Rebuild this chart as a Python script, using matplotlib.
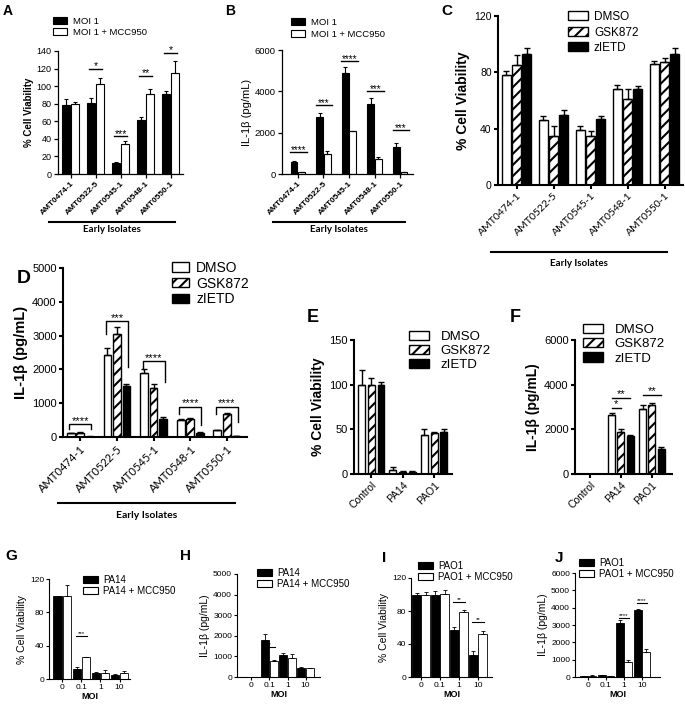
import numpy as np
import matplotlib
matplotlib.use('Agg')
import matplotlib.pyplot as plt
from matplotlib.patches import Patch
from matplotlib.lines import Line2D

plt.rcParams['font.family'] = ['Liberation Sans', 'DejaVu Sans']
plt.rcParams['hatch.linewidth'] = 1.5

W, H = 685, 706

# ---- data ----
isolates = ['AMT0474-1', 'AMT0522-5', 'AMT0545-1', 'AMT0548-1', 'AMT0550-1']
a_moi = [79, 81, 12, 62, 91]
a_moi_err = [6, 5, 2, 3, 3]
a_mcc = [80, 102, 34, 91, 115]
a_mcc_err = [2, 7, 3, 6, 14]
a_sig = ['', '*', '***', '**', '*']
a_sig_y = [0, 120, 43, 112, 138]

b_moi = [600, 2750, 4900, 3400, 1330]
b_moi_err = [40, 200, 300, 280, 180]
b_mcc = [80, 950, 2060, 720, 80]
b_mcc_err = [20, 180, 40, 120, 20]
b_sig = ['****', '***', '****', '***', '***']
b_sig_y = [1080, 3340, 5480, 4030, 2130]

c_dmso = [78, 46, 39, 68, 86]
c_dmso_err = [3, 3, 3, 3, 2]
c_gsk = [85, 35, 35, 61, 87]
c_gsk_err = [7, 7, 3, 7, 3]
c_zietd = [93, 50, 47, 68, 93]
c_zietd_err = [4, 3, 2, 2, 4]

d_dmso = [110, 2430, 1900, 500, 200]
d_dmso_err = [20, 200, 120, 20, 20]
d_gsk = [120, 3050, 1460, 520, 680]
d_gsk_err = [20, 200, 100, 40, 40]
d_zietd = [10, 1520, 520, 120, 30]
d_zietd_err = [5, 40, 60, 20, 10]
d_sig = ['****', '***', '****', '****', '****']
d_sig_top = [375, 3420, 2240, 890, 890]
d_sig_left = [230, 3060, 2020, 690, 690]
d_sig_right = [230, 2070, 1630, 345, 440]

strains = ['Control', 'PA14', 'PAO1']
e_dmso = [100, 4, 44]
e_dmso_err = [16, 4, 6]
e_gsk = [100, 2, 46]
e_gsk_err = [8, 1, 1]
e_zietd = [100, 2, 47]
e_zietd_err = [3, 1, 3]

f_dmso = [0, 2650, 2900]
f_dmso_err = [0, 100, 200]
f_gsk = [0, 1900, 3100]
f_gsk_err = [0, 100, 80]
f_zietd = [0, 1680, 1130]
f_zietd_err = [0, 50, 80]

moi = ['0', '0.1', '1', '10']
g_pa14 = [100, 12, 7, 5]
g_pa14_err = [0, 2, 1, 1]
g_mcc = [100, 26, 7, 7]
g_mcc_err = [13, 1, 4, 3]

h_pa14 = [0, 1800, 1080, 430]
h_pa14_err = [0, 300, 80, 60]
h_mcc = [0, 800, 920, 420]
h_mcc_err = [0, 40, 180, 40]

i_pao1 = [100, 100, 57, 27]
i_pao1_err = [2, 4, 4, 5]
i_mcc = [100, 101, 79, 52]
i_mcc_err = [3, 5, 2, 4]

j_pao1 = [40, 90, 3100, 3870]
j_pao1_err = [10, 20, 200, 60]
j_mcc = [80, 60, 850, 1470]
j_mcc_err = [20, 10, 150, 120]

fig = plt.figure(figsize=(6.85, 7.06), dpi=100)


def axes_px(l, t, r, b):
    return fig.add_axes([l / W, 1 - b / H, (r - l) / W, (b - t) / H])


STY = {'black': dict(facecolor='black'),
       'white': dict(facecolor='white'),
       'hatch': dict(facecolor='white', hatch='///')}


def draw_bars(ax, series, width, offsets, lw, cap):
    for (vals, errs, kind), off in zip(series, offsets):
        x = np.arange(len(vals)) + off
        ax.bar(x, vals, width, edgecolor='black', linewidth=lw, zorder=2, **STY[kind])
        ax.errorbar(x, vals, yerr=[np.zeros(len(errs)), errs], fmt='none', ecolor='black',
                    elinewidth=lw, capsize=cap, capthick=lw, zorder=3)


def style(ax, lw, size, ylim, yticks, xlim, labels, rot=45, lab_font=None, lab_size=None,
          lab_weight='normal'):
    for s in ['top', 'right']:
        ax.spines[s].set_visible(False)
    for s in ['left', 'bottom']:
        ax.spines[s].set_linewidth(lw)
    ax.set_ylim(*ylim)
    ax.set_yticks(yticks)
    ax.set_xlim(*xlim)
    ax.set_xticks(np.arange(len(labels)))
    ax.tick_params(width=lw, length=3, labelsize=size, pad=1.5)
    if rot:
        ax.set_xticklabels(labels, rotation=rot, ha='right', rotation_mode='anchor',
                           fontsize=lab_size or size, weight=lab_weight,
                           family=lab_font or plt.rcParams['font.family'])
    else:
        ax.set_xticklabels(labels, fontsize=lab_size or size)


def legend(ax, items, x, y, size, hl, hh, pad, spacing, lw=1.0):
    handles = [Patch(edgecolor='black', linewidth=lw, **STY[k]) for k, _ in items]
    ax.legend(handles, [t for _, t in items], loc='upper left',
              bbox_to_anchor=(x / W, 1 - y / H), bbox_transform=fig.transFigure,
              frameon=False, fontsize=size, handlelength=hl, handleheight=hh,
              handletextpad=pad, labelspacing=spacing, borderpad=0, borderaxespad=0)


def sig_line(ax, x1, x2, y, text, size, lw=1.0, gap=0):
    ax.plot([x1, x2], [y, y], color='black', lw=lw, clip_on=False, zorder=4)
    ax.text((x1 + x2) / 2, y + gap, text, ha='center', va='bottom', fontsize=size,
            clip_on=False)


def bracket(ax, x1, x2, top, yl, yr, text, size, lw=1.0, gap=0):
    ax.plot([x1, x1, x2, x2], [yl, top, top, yr], color='black', lw=lw, zorder=4)
    ax.text((x1 + x2) / 2, top + gap, text, ha='center', va='bottom', fontsize=size)


def group_label(x1, x2, y, ty, size):
    fig.add_artist(Line2D([x1 / W, x2 / W], [1 - y / H] * 2, color='black', lw=1.5))
    fig.text((x1 + x2) / 2 / W, 1 - ty / H, 'Early Isolates', ha='center', va='center',
             fontsize=size, weight='bold', family=['Lato', 'DejaVu Sans'])


def letter(ch, x, y, size):
    fig.text(x / W, 1 - y / H, ch, fontsize=size, weight='bold', va='baseline')


# ---- A ----
ax = axes_px(58, 51, 183, 174)
draw_bars(ax, [(a_moi, a_moi_err, 'black'), (a_mcc, a_mcc_err, 'white')], 0.32, [-0.17, 0.17], 0.8, 1.5)
style(ax, 0.9, 6.5, (0, 140), range(0, 141, 20), (-0.5, 4.5), isolates, lab_size=6, lab_weight='bold')
ax.set_ylabel('% Cell Viability', fontsize=7, weight='bold', labelpad=2)
for i, (t, y) in enumerate(zip(a_sig, a_sig_y)):
    if t:
        sig_line(ax, i - 0.25, i + 0.25, y, t, 7.5, gap=-3)
legend(ax, [('black', 'MOI 1'), ('white', 'MOI 1 + MCC950')], 53, 17, 6.8, 1.5, 0.75, 0.6, 0.2, 0.8)
group_label(49, 175, 222, 230, 7)
letter('A', 3, 15, 10)

# ---- B ----
ax = axes_px(282, 50, 413, 174)
draw_bars(ax, [(b_moi, b_moi_err, 'black'), (b_mcc, b_mcc_err, 'white')], 0.27, [-0.15, 0.15], 0.8, 1.5)
style(ax, 0.9, 6.8, (0, 6000), range(0, 6001, 2000), (-0.62, 4.5), isolates, lab_size=6, lab_weight='bold')
ax.set_ylabel('IL-1β (pg/mL)', fontsize=8, labelpad=2)
for i, (t, y) in enumerate(zip(b_sig, b_sig_y)):
    sig_line(ax, i - 0.3, i + 0.35, y, t, 7, gap=-150)
legend(ax, [('black', 'MOI 1'), ('white', 'MOI 1 + MCC950')], 291, 18, 6.8, 1.5, 0.75, 0.6, 0.3, 0.8)
group_label(273, 405, 222, 230, 7)
letter('B', 225, 15, 10)

# ---- C ----
ax = axes_px(498, 16, 683, 185)
draw_bars(ax, [(c_dmso, c_dmso_err, 'white'), (c_gsk, c_gsk_err, 'hatch'), (c_zietd, c_zietd_err, 'black')],
          0.24, [-0.28, 0, 0.28], 1.0, 2)
style(ax, 1.5, 7.5, (0, 120), [0, 40, 80, 120], (-0.5, 4.5), isolates, lab_font=['Lato', 'DejaVu Sans'], lab_size=7.5)
ax.set_ylabel('% Cell Viability', fontsize=10, weight='bold', labelpad=3)
legend(ax, [('white', 'DMSO'), ('hatch', 'GSK872'), ('black', 'zIETD')], 568, 11, 8.5, 1.7, 0.8, 0.5, 0.3)
group_label(491, 667, 252, 263, 7)
letter('C', 441, 15, 11)

# ---- D ----
ax = axes_px(63, 268, 247, 437)
draw_bars(ax, [(d_dmso, d_dmso_err, 'white'), (d_gsk, d_gsk_err, 'hatch'), (d_zietd, d_zietd_err, 'black')],
          0.21, [-0.26, 0, 0.26], 1.0, 2)
style(ax, 1.5, 8, (0, 5000), range(0, 5001, 1000), (-0.47, 4.55), isolates, lab_font=['Lato', 'DejaVu Sans'], lab_size=8)
ax.set_ylabel('IL-1β (pg/mL)', fontsize=10.5, weight='bold', labelpad=3)
for i, t in enumerate(d_sig):
    bracket(ax, i - 0.3, i + 0.3, d_sig_top[i], d_sig_left[i], d_sig_right[i], t, 8, gap=-40)
legend(ax, [('white', 'DMSO'), ('hatch', 'GSK872'), ('black', 'zIETD')], 172, 261, 10, 1.25, 0.65, 0.5, 0.12)
group_label(58, 235, 503, 516, 7.5)
letter('D', 17, 283, 14)

# ---- E ----
ax = axes_px(354, 340, 452, 474)
draw_bars(ax, [(e_dmso, e_dmso_err, 'white'), (e_gsk, e_gsk_err, 'hatch'), (e_zietd, e_zietd_err, 'black')],
          0.22, [-0.31, 0, 0.31], 1.0, 2)
style(ax, 1.5, 8, (0, 150), [0, 50, 100, 150], (-0.55, 2.57), strains, lab_size=7.5)
ax.set_ylabel('% Cell Viability', fontsize=10, weight='bold', labelpad=3)
legend(ax, [('white', 'DMSO'), ('hatch', 'GSK872'), ('black', 'zIETD')], 409, 331, 9.5, 1.5, 0.7, 0.9, 0.12)
letter('E', 307, 322, 13)

# ---- F ----
ax = axes_px(575, 340, 672, 474)
draw_bars(ax, [(f_dmso, f_dmso_err, 'white'), (f_gsk, f_gsk_err, 'hatch'), (f_zietd, f_zietd_err, 'black')],
          0.22, [-0.3, 0, 0.3], 1.0, 2)
style(ax, 1.5, 8, (0, 6000), [0, 2000, 4000, 6000], (-0.48, 2.65), strains, lab_size=7.5)
ax.set_ylabel('IL-1β (pg/mL)', fontsize=10, weight='bold', labelpad=3)
sig_line(ax, 1 - 0.3, 1 + 0.3, 3400, '**', 8, gap=-60)
sig_line(ax, 1 - 0.3, 1.0, 2950, '*', 8, gap=-60)
sig_line(ax, 2 - 0.3, 2 + 0.3, 3550, '**', 8, gap=-60)
legend(ax, [('white', 'DMSO'), ('hatch', 'GSK872'), ('black', 'zIETD')], 583, 324, 9.5, 1.5, 0.7, 0.9, 0.15)
letter('F', 510, 322, 13)

# ---- G-J ----
small = [
    ('G', (49, 579, 130, 679), (g_pa14, g_pa14_err), (g_mcc, g_mcc_err), 'PA14', (0, 120), [0, 40, 80, 120],
     (-0.7, 3.55), '% Cell Viability', [(1, 52, '***')], (83, 575), (5, 560)),
    ('H', (237, 574, 320, 677), (h_pa14, h_pa14_err), (h_mcc, h_mcc_err), 'PA14', (0, 5000), range(0, 5001, 1000),
     (-0.8, 3.8), 'IL-1β (pg/mL)', [(1, 1450, '**')], (257, 568), (180, 560)),
    ('I', (411, 578, 492, 677), (i_pao1, i_pao1_err), (i_mcc, i_mcc_err), 'PAO1', (0, 120), [0, 40, 80, 120],
     (-0.53, 3.74), '% Cell Viability', [(2, 91, '**'), (3, 67, '**')], (418, 561), (382, 562)),
    ('J', (575, 573, 660, 677), (j_pao1, j_pao1_err), (j_mcc, j_mcc_err), 'PAO1', (0, 6000), range(0, 6001, 1000),
     (-0.72, 4.0), 'IL-1β (pg/mL)', [(2, 3385, '****'), (3, 4255, '****')], (579, 558), (555, 562)),
]
for ch, box, s1, s2, name, ylim, yt, xlim, ylab, sigs, lpos, cpos in small:
    ax = axes_px(*box)
    draw_bars(ax, [(s1[0], s1[1], 'black'), (s2[0], s2[1], 'white')], 0.45, [-0.24, 0.24], 0.6, 1.2)
    style(ax, 0.8, 6, ylim, yt, xlim, moi, rot=0)
    ax.tick_params(length=2)
    ax.set_ylabel(ylab, fontsize=7.5, labelpad=2)
    ax.set_xlabel('MOI', fontsize=6.5, weight='bold', labelpad=0.5)
    for gi, y, t in sigs:
        sig_line(ax, gi - 0.3, gi + 0.3, y, t, 4.5, lw=0.8, gap=0)
    legend(ax, [('black', name), ('white', name + ' + MCC950')], lpos[0], lpos[1], 7, 1.5, 0.7, 0.6, 0.1, 0.8)
    letter(ch, cpos[0], cpos[1], 11)

fig.savefig('out.png', dpi=100)
